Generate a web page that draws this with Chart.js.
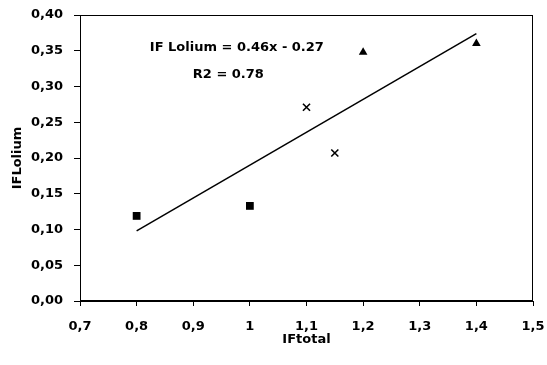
<!DOCTYPE html>
<html>
<head>
<meta charset="utf-8">
<script src="https://cdn.jsdelivr.net/npm/chart.js@4"></script>
<style>
  html, body { margin: 0; padding: 0; background: #fff; }
  #wrap { width: 547px; height: 365px; }
</style>
</head>
<body>
<div id="wrap"><canvas id="c" width="547" height="365"></canvas></div>
<script>
// Data
const squaresX = [0.8, 1.0];
const squaresY = [0.119, 0.133];
const crossesX = [1.10, 1.15];
const crossesY = [0.271, 0.207];
const trianglesX = [1.20, 1.40];
const trianglesY = [0.348, 0.360];
const trendX = [0.8, 1.4];
const trendY = [0.098, 0.374];
const annotationLines = ['IF Lolium = 0.46x - 0.27', 'R2 = 0.78'];
const xTitle = 'IFtotal';
const yTitle = 'IFLolium';

const pts = (xs, ys) => xs.map((x, i) => ({ x: x, y: ys[i] }));
const FONT = '"DejaVu Sans", "Liberation Sans", Arial, sans-serif';

const framePlugin = {
  id: 'frame',
  afterDatasetsDraw(chart) {
    const { ctx, chartArea: a } = chart;
    ctx.save();
    ctx.strokeStyle = '#000';
    ctx.lineWidth = 1;
    ctx.strokeRect(a.left + 0.5, a.top + 0.5, a.right - a.left - 1, a.bottom - a.top - 1);
    // annotation text
    ctx.fillStyle = '#000';
    ctx.font = 'bold 13px ' + FONT;
    ctx.textAlign = 'center';
    ctx.textBaseline = 'middle';
    const xs = chart.scales.x, ys = chart.scales.y;
    ctx.fillText(annotationLines[0], xs.getPixelForValue(0.977), ys.getPixelForValue(0.355));
    ctx.fillText(annotationLines[1], xs.getPixelForValue(0.962), ys.getPixelForValue(0.317));
    ctx.restore();
  }
};

new Chart(document.getElementById('c'), {
  type: 'scatter',
  data: {
    datasets: [
      {
        type: 'line',
        data: pts(trendX, trendY),
        borderColor: '#000',
        borderWidth: 1.5,
        pointRadius: 0,
        fill: false,
        order: 2
      },
      {
        data: pts(squaresX, squaresY),
        pointStyle: 'rect',
        pointRadius: 5.5,
        backgroundColor: '#000',
        borderColor: '#000',
        borderWidth: 0
      },
      {
        data: pts(crossesX, crossesY),
        pointStyle: 'crossRot',
        pointRadius: 5,
        backgroundColor: '#000',
        borderColor: '#000',
        borderWidth: 1.6
      },
      {
        data: pts(trianglesX, trianglesY),
        pointStyle: 'triangle',
        pointRadius: 5,
        backgroundColor: '#000',
        borderColor: '#000',
        borderWidth: 0
      }
    ]
  },
  options: {
    responsive: false,
    animation: false,
    events: [],
    layout: { padding: { left: 0, right: 14, top: 15, bottom: 0 } },
    plugins: {
      legend: { display: false },
      tooltip: { enabled: false }
    },
    scales: {
      x: {
        type: 'linear',
        min: 0.7,
        max: 1.5,
        afterFit(scale) { scale.height = 64; scale.paddingLeft = 0; scale.paddingRight = 0; },
        ticks: {
          stepSize: 0.1,
          color: '#000',
          padding: 13,
          font: { family: FONT, size: 13, weight: 'bold' },
          callback: (v) => (Math.round(v * 10) / 10).toString().replace('.', ',')
        },
        grid: { display: true, drawOnChartArea: false, drawTicks: true, tickLength: 5, color: '#000' },
        border: { display: true, color: '#000', width: 1 },
        title: {
          display: true,
          text: xTitle,
          color: '#000',
          font: { family: FONT, size: 13, weight: 'bold' },
          padding: { top: 0, bottom: 18 }
        }
      },
      y: {
        type: 'linear',
        min: 0,
        max: 0.4,
        afterFit(scale) { scale.width = 80; scale.paddingTop = 0; scale.paddingBottom = 0; },
        ticks: {
          stepSize: 0.05,
          color: '#000',
          padding: 11,
          font: { family: FONT, size: 13, weight: 'bold' },
          callback: (v) => v.toFixed(2).replace('.', ',')
        },
        grid: { display: true, drawOnChartArea: false, drawTicks: true, tickLength: 6, color: '#000' },
        border: { display: true, color: '#000', width: 1 },
        title: {
          display: true,
          text: yTitle,
          color: '#000',
          font: { family: FONT, size: 13, weight: 'bold' },
          padding: { top: 10, bottom: 0 }
        }
      }
    }
  },
  plugins: [framePlugin]
});
</script>
</body>
</html>
